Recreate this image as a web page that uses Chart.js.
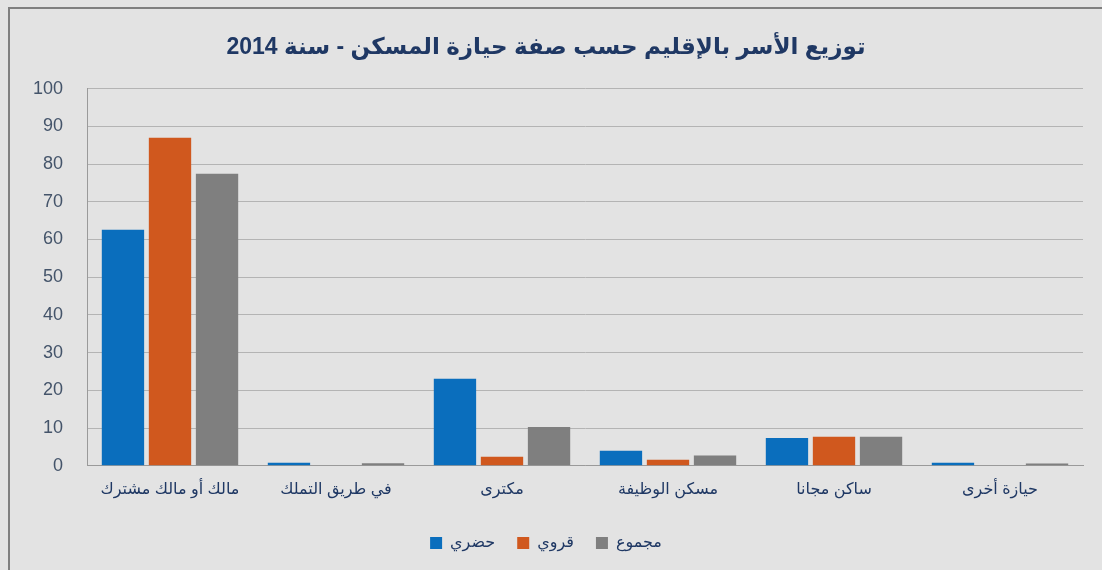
<!DOCTYPE html>
<html>
<head>
<meta charset="utf-8">
<script src="https://cdn.jsdelivr.net/npm/chart.js@4"></script>
<style>
  body { margin: 0; background: #ffffff; }
  #wrap { width: 1102px; height: 570px; }
</style>
</head>
<body>
<div id="wrap"><canvas id="housing-chart" width="1102" height="570"></canvas></div>
<script>
'use strict';

// data
const categories = ['مالك أو مالك مشترك', 'في طريق التملك', 'مكترى', 'مسكن الوظيفة', 'ساكن مجانا', 'حيازة أخرى'];
const seriesNames = ['حضري', 'قروي', 'مجموع'];
const urbanValues = [62.6, 0.8, 23.1, 4.0, 7.4, 0.8];
const ruralValues = [87.0, 0, 2.4, 1.6, 7.7, 0];
const totalValues = [77.4, 0.7, 10.3, 2.7, 7.7, 0.6];
const yTicks = [0, 10, 20, 30, 40, 50, 60, 70, 80, 90, 100];

const titleText = 'توزيع الأسر بالإقليم حسب صفة حيازة المسكن - سنة 2014';
const fontFamily = '"Liberation Sans", Arial, "DejaVu Sans", sans-serif';

// paints the grey card and its frame behind everything
const cardBackground = {
    id: 'cardBackground',
    beforeDraw(chart) {
        const ctx = chart.ctx;
        ctx.save();
        ctx.fillStyle = '#e3e3e3';
        ctx.fillRect(0, 0, chart.width, chart.height);
        ctx.strokeStyle = '#7f7f7f';
        ctx.lineWidth = 2;
        ctx.strokeRect(9, 8, chart.width + 20, chart.height + 20);
        ctx.restore();
    }
};

const housingData = {
    labels: categories,
    datasets: [
        { label: seriesNames[0], data: urbanValues, backgroundColor: '#0a6ebd' },
        { label: seriesNames[1], data: ruralValues, backgroundColor: '#d0581e' },
        { label: seriesNames[2], data: totalValues, backgroundColor: '#7f7f7f' }
    ]
};

const housingConfig = {
    type: 'bar',
    data: housingData,
    options: {
        responsive: false,
        animation: false,
        layout: {
            padding: { left: 9, right: 19, top: 26, bottom: 9 }
        },
        datasets: {
            bar: {
                categoryPercentage: 0.85,
                barPercentage: 0.9
            }
        },
        scales: {
            x: {
                grid: { display: false, drawTicks: false },
                border: { color: '#9a9a9a', width: 1 },
                ticks: {
                    color: '#1f3864',
                    padding: 14,
                    maxRotation: 0,
                    font: { family: fontFamily, size: 16 }
                }
            },
            y: {
                min: 0,
                max: 100,
                afterFit: scale => { scale.width = 78; },
                afterBuildTicks: scale => {
                    scale.ticks = yTicks.map(v => ({ value: v }));
                },
                grid: { color: '#b4b4b4', drawTicks: false },
                border: { color: '#9a9a9a', width: 1 },
                ticks: {
                    color: '#44546a',
                    padding: 24,
                    font: { family: fontFamily, size: 18 }
                }
            }
        },
        plugins: {
            title: {
                display: true,
                text: titleText,
                color: '#1f3864',
                font: { family: fontFamily, size: 23, weight: 'bold' },
                padding: { top: 8, bottom: 27 }
            },
            legend: {
                position: 'bottom',
                labels: {
                    color: '#1f3864',
                    boxWidth: 12,
                    boxHeight: 12,
                    padding: 22,
                    font: { family: fontFamily, size: 16 }
                }
            },
            tooltip: { enabled: false }
        }
    },
    plugins: [cardBackground]
};

const housingCtx = document.querySelector('#housing-chart');
const housingChart = new Chart(housingCtx, housingConfig);
</script>
</body>
</html>
